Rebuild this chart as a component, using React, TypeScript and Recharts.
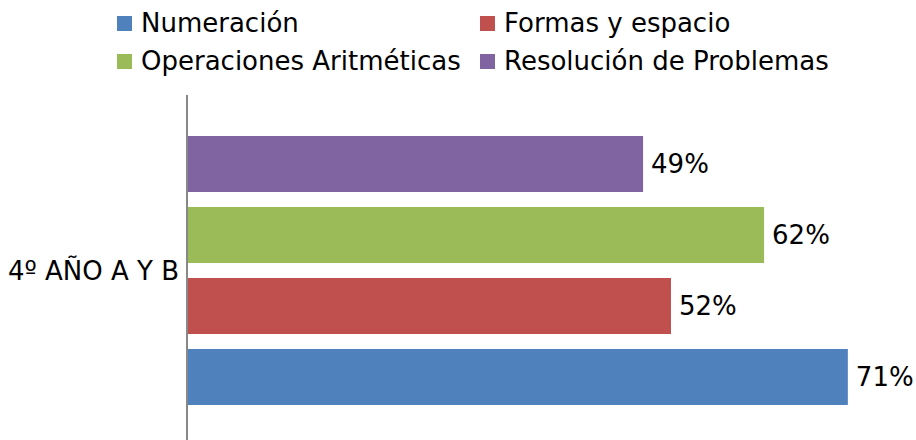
import React from 'react';
import { BarChart, Bar, XAxis, YAxis, LabelList } from 'recharts';

// categories and series values (percent)
const categories = ['4º AÑO A Y B'];
const numeracion = [71];
const formas = [52];
const operaciones = [62];
const resolucion = [49];

const SERIES = [
  { key: 'numeracion', name: 'Numeración', color: '#4F81BD', values: numeracion },
  { key: 'formas', name: 'Formas y espacio', color: '#C0504D', values: formas },
  { key: 'operaciones', name: 'Operaciones Aritméticas', color: '#9BBB59', values: operaciones },
  { key: 'resolucion', name: 'Resolución de Problemas', color: '#8064A2', values: resolucion },
];

const data = categories.map((name, i) => {
  const row: Record<string, string | number> = { name };
  SERIES.forEach((s) => { row[s.key] = s.values[i]; });
  return row;
});

const FONT = '"DejaVu Sans", sans-serif';
const FS = 26;

function LegendBox() {
  return (
    <div
      style={{
        position: 'absolute', left: 117, top: 4,
        display: 'grid', gridTemplateColumns: '363px auto',
        fontFamily: FONT, fontSize: FS, color: '#000',
      }}
    >
      {SERIES.map((s) => (
        <div key={s.key} style={{ display: 'flex', alignItems: 'center', height: 38, whiteSpace: 'nowrap' }}>
          <span style={{ width: 15, height: 15, background: s.color, marginRight: 9, flex: 'none' }} />
          <span>{s.name}</span>
        </div>
      ))}
    </div>
  );
}

export default function App() {
  // top-to-bottom order in the plot is the reverse of the legend
  const drawOrder = [...SERIES].reverse();
  return (
    <div style={{ position: 'absolute', left: 0, top: 0, width: 916, height: 440, overflow: 'hidden', background: '#fff' }}>
      <LegendBox />
      <div style={{ position: 'absolute', left: 0, top: 95 }}>
        <BarChart
          width={916}
          height={351}
          data={data}
          layout="vertical"
          margin={{ top: 0, right: 3, left: 0, bottom: 0 }}
          barSize={56}
          barGap={15}
          style={{ fontFamily: FONT }}
        >
          <XAxis type="number" domain={[0, 78]} hide />
          <YAxis
            type="category"
            dataKey="name"
            width={187}
            tickLine={false}
            axisLine={{ stroke: '#888888', strokeWidth: 2 }}
            tick={{ fontSize: FS, fill: '#000', fontFamily: FONT }}
          />
          {drawOrder.map((s) => (
            <Bar key={s.key} dataKey={s.key} name={s.name} fill={s.color} isAnimationActive={false}>
              <LabelList
                dataKey={s.key}
                position="right"
                offset={8}
                formatter={(v: number) => `${v}%`}
                style={{ fontSize: FS, fill: '#000', fontFamily: FONT }}
              />
            </Bar>
          ))}
        </BarChart>
      </div>
    </div>
  );
}
